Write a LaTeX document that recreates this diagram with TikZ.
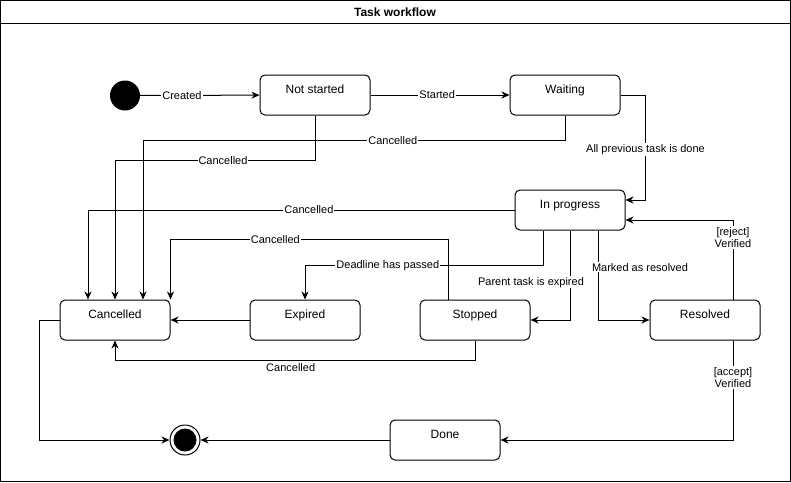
\documentclass[tikz,border=0pt]{standalone}
\usepackage{fontspec}
\setmainfont{Liberation Sans}
\usetikzlibrary{arrows.meta}
\tikzset{
    mystate/.style = {rectangle, rounded corners=5pt, draw=black, line width=1pt, minimum width=110pt, minimum height=40pt, inner sep=0pt, text height=18.5pt, text depth=21.5pt, font=\fontsize{12}{14}\selectfont},
    mystart/.style = {circle, fill=black, minimum size=30pt, inner sep=0pt},
    myend/.style = {circle, draw=black, line width=1pt, minimum size=30pt, inner sep=0pt, path picture={\fill[black] (path picture bounding box.center) circle (11.5pt);}},
    edgen/.style = {-{Stealth[length=8pt,width=7pt,inset=2.5pt]}, line width=1pt},
    elabel/.style = {fill=white, inner sep=1pt, align=center, font=\fontsize{11}{12.5}\selectfont},
    frame/.style = {line width=1pt, draw=black}
}
\begin{document}
\begin{tikzpicture}[x=1pt,y=-1pt]
\useasboundingbox (0,0) rectangle (791,482);
% frame and title
\draw[frame] (0.5,0.5) rectangle (790.5,481.5);
\draw[frame] (0.5,23) -- (790.5,23);
\node[font=\bfseries\fontsize{12}{14}\selectfont] at (395,12.5) (title) {Task workflow};
%
\node[mystart] at (125,95.5) (start) {};
\node[mystate] at (315,95) (notstarted) {Not started};
\node[mystate] at (565,95) (waiting) {Waiting};
\node[mystate] at (570,210) (inprogress) {In progress};
\node[mystate] at (115,320) (cancelled) {Cancelled};
\node[mystate] at (305,320) (expired) {Expired};
\node[mystate] at (475,320) (stopped) {Stopped};
\node[mystate] at (705,320) (resolved) {Resolved};
\node[mystate] at (445,440) (done) {Done};
\node[myend] at (185,440) (end) {};
%
\draw[edgen] (start) -- node[elabel,pos=0.35] {Created} (notstarted);
\draw[edgen] (notstarted) -- node[elabel,pos=0.48] {Started} (waiting);
\draw[edgen] (waiting.east) -- ++(25,0) |- node[elabel,pos=0.26] {All previous task is done} ([yshift=10pt]inprogress.east);
\draw[edgen] (notstarted.south) -- ++(0,45) -| node[elabel,pos=0.23] {Cancelled} (cancelled.north);
\draw[edgen] (waiting.south) -- ++(0,25) -| node[elabel,pos=0.204] {Cancelled} ([xshift=28pt]cancelled.north);
\draw[edgen] (inprogress.west) -| node[elabel,pos=0.241] {Cancelled} ([xshift=-27pt]cancelled.north);
\draw[edgen] ([xshift=-27pt]stopped.north) -- ++(0,-60) -| node[elabel,pos=0.311] {Cancelled} (cancelled.north east);
\draw[edgen] ([xshift=-27pt]inprogress.south) -- ++(0,35) -| node[elabel,pos=0.326] {Deadline has passed} (expired.north);
\draw[edgen] (inprogress.south) |- node[elabel,pos=0.289,xshift=-39pt] {Parent task is expired} (stopped.east);
\draw[edgen] ([xshift=28pt]inprogress.south) |- node[elabel,pos=0.206,xshift=42pt] {Marked as resolved} (resolved.west);
\draw[edgen] ([xshift=28pt]resolved.north) |- node[elabel,pos=0.39] {[reject]\\Verified} ([yshift=-10pt]inprogress.east);
\draw[edgen] (expired) -- (cancelled);
\draw[edgen] (stopped.south) -- ++(0,20) -| node[elabel,pos=0.256,yshift=-7pt] {Cancelled} (cancelled.south);
\draw[edgen] ([xshift=28pt]resolved.south) |- node[elabel,pos=0.185] {[accept]\\Verified} (done.east);
\draw[edgen] (done) -- (end);
\draw[edgen] (cancelled.west) -- ++(-20,0) |- (end.west);
\end{tikzpicture}
\end{document}
